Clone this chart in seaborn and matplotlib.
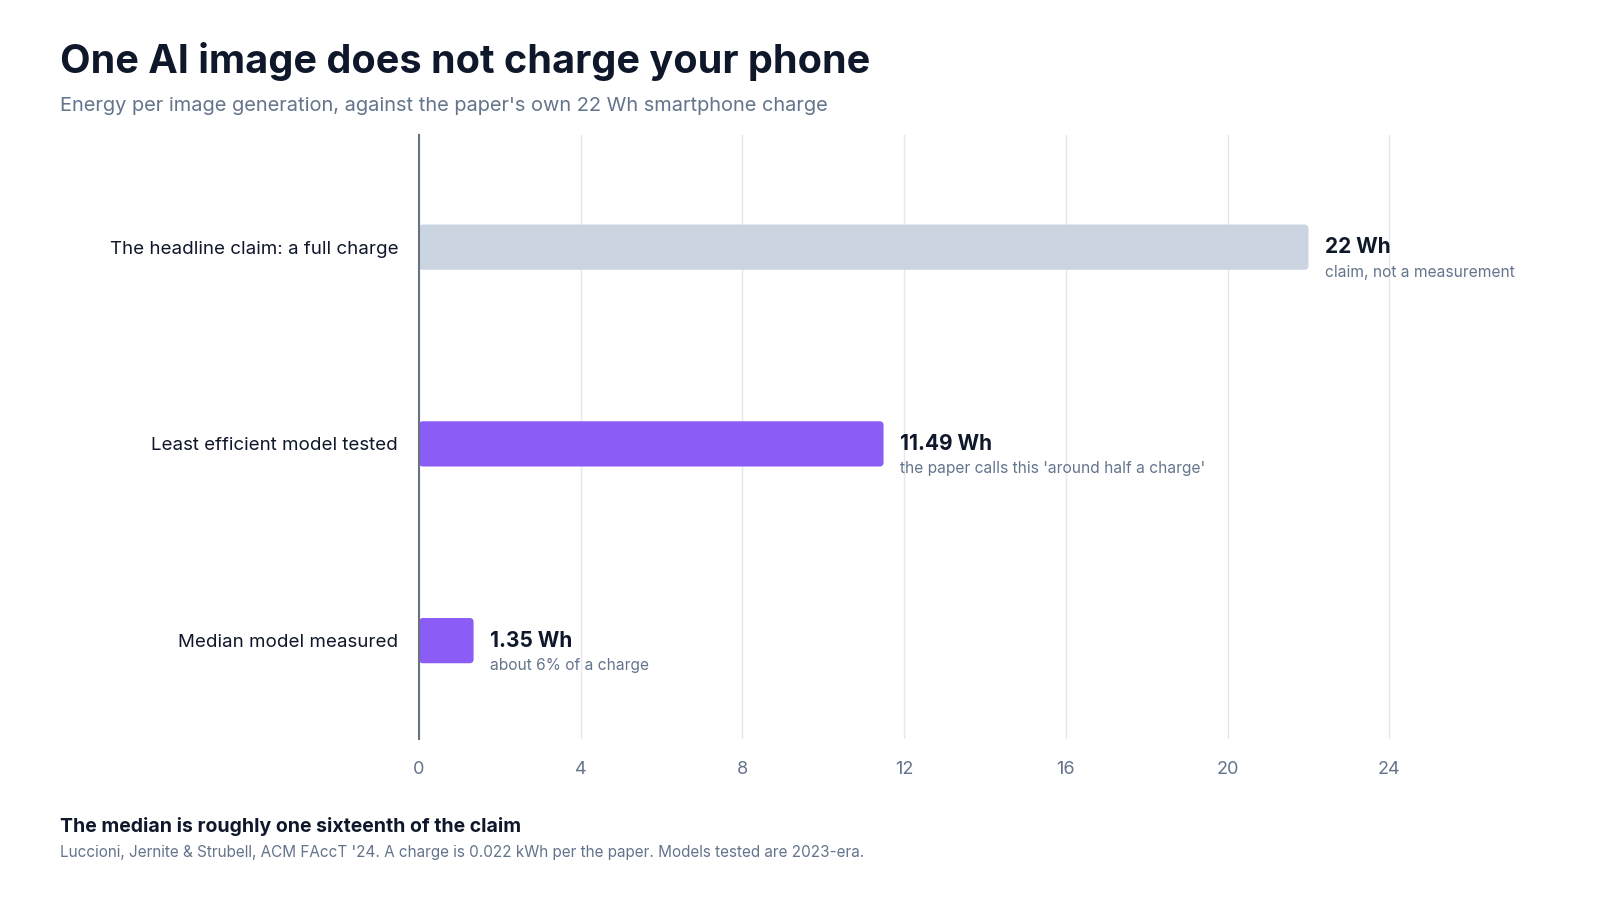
"""
One AI image vs a phone charge: horizontal bar chart.
"""

import matplotlib.pyplot as plt
import seaborn as sns
import pandas as pd
from matplotlib.patches import FancyBboxPatch

sns.set_style("white")
plt.rcParams['font.family'] = ['Inter', 'DejaVu Sans']

# Data
categories = ['The headline claim: a full charge', 'Least efficient model tested', 'Median model measured']
values = [22, 11.49, 1.35]
value_labels = ['22 Wh', '11.49 Wh', '1.35 Wh']
notes = ['claim, not a measurement', "the paper calls this 'around half a charge'", 'about 6% of a charge']
bar_colors = ['#cbd5e1', '#8b5cf6', '#8b5cf6']
x_ticks = [0, 4, 8, 12, 16, 20, 24]

df = pd.DataFrame({'category': categories, 'value': values})

W, H = 1600, 900
fig = plt.figure(figsize=(16, 9), dpi=100)
ax_left, ax_right, ax_top, ax_bottom = 419, 1545, 135, 739
ax = fig.add_axes([ax_left / W, 1 - ax_bottom / H, (ax_right - ax_left) / W, (ax_bottom - ax_top) / H])

sns.barplot(data=df, x='value', y='category', hue='category', palette=bar_colors,
            saturation=1, legend=False, width=0.23, ax=ax, zorder=3)

xmax = (ax_right - ax_left) / 40.43
ax.set_xlim(0, xmax)
ax.set_ylim(2.5, -0.57)

# Swap plain rectangles for slightly rounded ones
px_x = xmax / (ax_right - ax_left)
px_y = 3.07 / (ax_bottom - ax_top)
for patch in list(ax.patches):
    x0, y0 = patch.get_x(), patch.get_y()
    w, h = patch.get_width(), patch.get_height()
    fc = patch.get_facecolor()
    patch.remove()
    ax.add_patch(FancyBboxPatch((x0, y0), w, h,
                                boxstyle=f"round,pad=0,rounding_size={4 * px_x}",
                                mutation_aspect=px_y / px_x,
                                facecolor=fc, edgecolor='none', zorder=3))

# Value labels and notes
for i, (v, lab, note) in enumerate(zip(values, value_labels, notes)):
    ax.annotate(lab, (v, i), xytext=(12, 0), textcoords='offset points',
                ha='left', va='center', fontsize=15, fontweight='bold', color='#0f172a')
    ax.annotate(note, (v, i), xytext=(12, -18), textcoords='offset points',
                ha='left', va='center', fontsize=11.2, color='#64748b')

ax.set_xticks(x_ticks)
ax.set_xticklabels([str(t) for t in x_ticks])
ax.grid(True, axis='x', color='#e5e7eb', linewidth=1, zorder=0)
ax.set_xlabel('')
ax.set_ylabel('')
ax.tick_params(axis='x', length=0, pad=16, labelsize=13, labelcolor='#64748b')
ax.tick_params(axis='y', length=0, pad=15, labelsize=13.5, labelcolor='#0f172a')
for side in ['top', 'right', 'bottom']:
    ax.spines[side].set_visible(False)
ax.spines['left'].set_color('#6b7280')
ax.spines['left'].set_linewidth(1.5)
ax.spines['left'].set_zorder(4)

# Titles and footer
fig.text(60 / W, 1 - 73 / H, 'One AI image does not charge your phone',
         fontsize=28.5, fontweight='bold', color='#0f172a', va='baseline')
fig.text(60 / W, 1 - 111 / H, "Energy per image generation, against the paper's own 22 Wh smartphone charge",
         fontsize=14.4, color='#64748b', va='baseline')
fig.text(60 / W, 1 - 832 / H, 'The median is roughly one sixteenth of the claim',
         fontsize=14, fontweight='bold', color='#0f172a', va='baseline')
fig.text(60 / W, 1 - 857 / H,
         "Luccioni, Jernite & Strubell, ACM FAccT '24. A charge is 0.022 kWh per the paper. Models tested are 2023-era.",
         fontsize=11, color='#64748b', va='baseline')

plt.savefig('out.png', dpi=100, facecolor='white')
plt.close()
